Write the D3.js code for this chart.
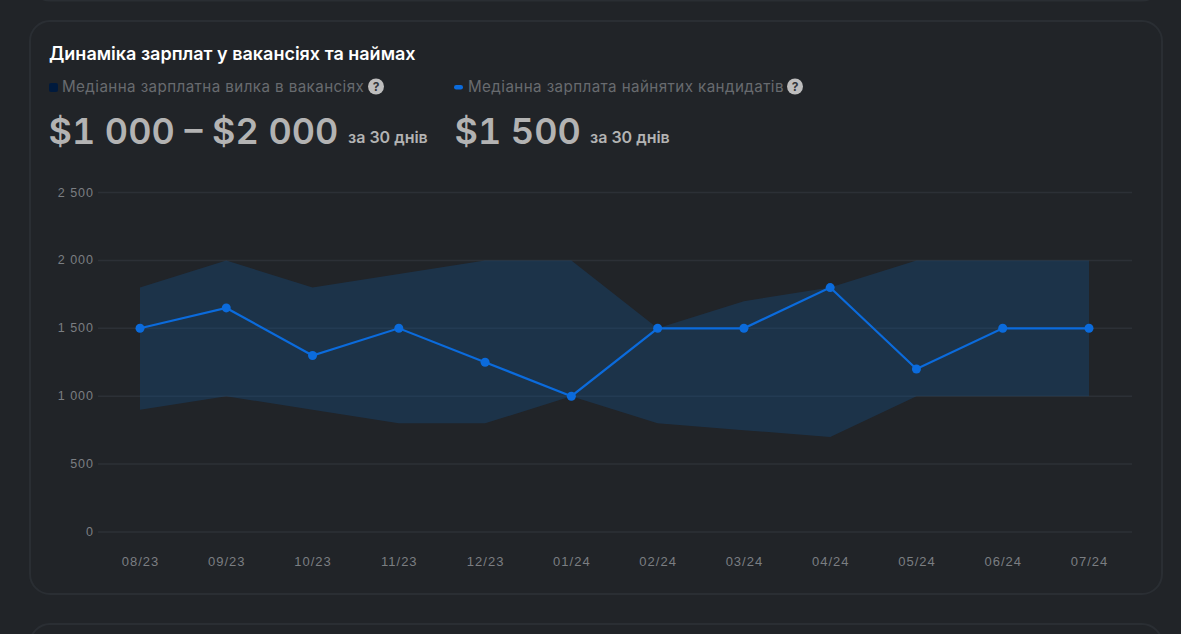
<!DOCTYPE html>
<html>
<head>
<meta charset="utf-8">
<script src="https://cdn.jsdelivr.net/npm/d3@7"></script>
<style>
  html, body { margin: 0; padding: 0; background: #212428; overflow: hidden; }
  text { font-family: Inter, "Liberation Sans", sans-serif; }
  .axis text { font-family: "Liberation Sans", Arial, sans-serif; font-size: 13px; letter-spacing: 1px; fill: #7b7e82; }
  .axis path, .axis line { display: none; }
  .grid line { stroke: #2c3036; stroke-width: 1.5; }
  .big { font-feature-settings: "tnum"; }
</style>
</head>
<body>
<div id="chart"></div>
<script>
const months = ['08/23', '09/23', '10/23', '11/23', '12/23', '01/24', '02/24', '03/24', '04/24', '05/24', '06/24', '07/24'];
const vacancyLow = [900, 1000, 900, 800, 800, 1000, 800, 750, 700, 1000, 1000, 1000];
const vacancyHigh = [1800, 2000, 1800, 1900, 2000, 2000, 1500, 1700, 1800, 2000, 2000, 2000];
const hiredMedian = [1500, 1650, 1300, 1500, 1250, 1000, 1500, 1500, 1800, 1200, 1500, 1500];
const yTicks = [0, 500, 1000, 1500, 2000, 2500];

const width = 1181;
const height = 634;

const svg = d3.select('#chart')
  .append('svg')
  .attr('width', width)
  .attr('height', height)
  .style('display', 'block');

// cards: the neighbours above and below only peek in
const card = (y, h) => svg.append('rect')
  .attr('x', 30).attr('y', y)
  .attr('width', 1132).attr('height', h)
  .attr('rx', 20)
  .attr('fill', '#212428')
  .attr('stroke', '#2a2e33')
  .attr('stroke-width', 2);
card(-100, 100.5);
card(21, 573);
card(624, 100);

// scales
const x = d3.scalePoint().domain(months).range([140, 1089]);
const y = d3.scaleLinear().domain([0, 2500]).range([532, 192.5]);

// grid
svg.append('g').attr('class', 'grid')
  .selectAll('line')
  .data(yTicks)
  .join('line')
  .attr('x1', 98)
  .attr('x2', 1132)
  .attr('y1', d => y(d))
  .attr('y2', d => y(d));

// axes
svg.append('g').attr('class', 'axis')
  .attr('transform', 'translate(97,-0.5)')
  .call(d3.axisLeft(y).tickValues(yTicks).tickSize(0).tickPadding(3)
    .tickFormat(d => d3.format(',')(d).replace(',', ' ')))
  .selectAll('text')
  .style('font-size', '12.5px');

svg.append('g').attr('class', 'axis')
  .attr('transform', 'translate(0,555)')
  .call(d3.axisBottom(x).tickSize(0).tickPadding(0))
  .selectAll('text')
  .attr('y', 1.5);

// vacancy salary band
const band = d3.area()
  .x((d, i) => x(months[i]))
  .y0((d, i) => y(vacancyLow[i]))
  .y1(d => y(d));

svg.append('path')
  .datum(vacancyHigh)
  .attr('d', band)
  .attr('fill', '#0f5599')
  .attr('fill-opacity', 0.3);

// hired median line
const line = d3.line()
  .x((d, i) => x(months[i]))
  .y(d => y(d));

svg.append('path')
  .datum(hiredMedian)
  .attr('d', line)
  .attr('fill', 'none')
  .attr('stroke', '#0b6bdc')
  .attr('stroke-width', 2.2);

svg.append('g')
  .selectAll('circle')
  .data(hiredMedian)
  .join('circle')
  .attr('cx', (d, i) => x(months[i]))
  .attr('cy', d => y(d))
  .attr('r', 4.5)
  .attr('fill', '#0b6bdc');

// header
svg.append('text')
  .attr('x', 49).attr('y', 60)
  .attr('font-size', 18).attr('font-weight', 600)
  .attr('fill', '#ffffff')
  .text('Динаміка зарплат у вакансіях та наймах');

const help = (cx) => {
  svg.append('circle').attr('cx', cx).attr('cy', 86.5).attr('r', 8).attr('fill', '#bdbdbd');
  svg.append('text').attr('x', cx).attr('y', 91)
    .attr('text-anchor', 'middle').attr('font-size', 12).attr('font-weight', 700)
    .attr('fill', '#33363a').text('?');
};

// first legend
svg.append('rect').attr('x', 49).attr('y', 83).attr('width', 9).attr('height', 9).attr('rx', 2).attr('fill', '#001a3d');
svg.append('text').attr('x', 62).attr('y', 92)
  .attr('font-size', 15.2).attr('letter-spacing', 0.4).attr('fill', '#686b6f')
  .text('Медіанна зарплатна вилка в вакансіях');
help(376);

svg.append('text').attr('class', 'big').attr('x', 48.5).attr('y', 144)
  .attr('font-size', 36).attr('font-weight', 600).attr('fill', '#b3b3b3')
  .text('$1 000 – $2 000');
svg.append('text').attr('x', 348).attr('y', 143)
  .attr('font-size', 16).attr('font-weight', 600).attr('fill', '#b3b3b3')
  .text('за 30 днів');

// second legend
svg.append('rect').attr('x', 454).attr('y', 85).attr('width', 9).attr('height', 4.5).attr('rx', 2.2).attr('fill', '#0b6bdc');
svg.append('text').attr('x', 468).attr('y', 92)
  .attr('font-size', 15.2).attr('letter-spacing', 0.4).attr('fill', '#686b6f')
  .text('Медіанна зарплата найнятих кандидатів');
help(795);

svg.append('text').attr('class', 'big').attr('x', 454.5).attr('y', 144)
  .attr('font-size', 36).attr('font-weight', 600).attr('fill', '#b3b3b3')
  .text('$1 500');
svg.append('text').attr('x', 590).attr('y', 143)
  .attr('font-size', 16).attr('font-weight', 600).attr('fill', '#b3b3b3')
  .text('за 30 днів');
</script>
</body>
</html>
